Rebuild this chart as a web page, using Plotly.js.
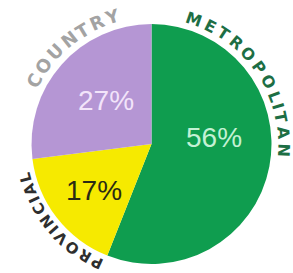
<!DOCTYPE html>
<html><head><meta charset="utf-8">
<script src="https://cdn.plot.ly/plotly-3.0.1.min.js"></script>
<style>html,body{margin:0;padding:0;background:#fff;}#chart{width:293px;height:273px;}</style>
</head><body><div id="chart"></div>
<script>
// ---- data ----
const categories = ['METROPOLITAN', 'PROVINCIAL', 'COUNTRY'];
const values = [56, 17, 27];

// ---- styles / layout config ----
const sliceColors = ['#0f9d4f', '#f6ea00', '#b596d4'];
const pctColors = ['#c3f1d4', '#2a2a14', '#f2e4fa'];
const labelColors = ['#1d6e44', '#2e2e2e', '#a3a3a3'];
const pctShiftDeg = [-17, -1, 2];
const pctRadius = [63, 74, 63];
const labelArcs = [[19, 92.5], [204.6, 255.2], [298.4, 343]];
const labelRadius = [132, 130, 133];
const labelSizes = [16, 15, 18];
const pctSize = 28;
const FONT = '"Liberation Sans", Arial, sans-serif';
const LFONT = '"DejaVu Sans", sans-serif';

const W = 293, H = 273;
const cx = 151.5, cy = 144, R = 120;

const total = values.reduce((a, b) => a + b, 0);
let acc = 0;
const starts = [], ends = [];
values.forEach(v => { starts.push(acc / total * 360); acc += v; ends.push(acc / total * 360); });

const ctx = document.createElement('canvas').getContext('2d');

function pt(angDeg, r) {
  const a = angDeg * Math.PI / 180;
  return [cx + r * Math.sin(a), cy - r * Math.cos(a)];
}
function normAng(a) { a = ((a % 360) + 360) % 360; return a > 180 ? a - 360 : a; }

const annotations = [];
categories.forEach((cat, i) => {
  const mid = (starts[i] + ends[i]) / 2 + pctShiftDeg[i];
  const [px, py] = pt(mid, pctRadius[i]);
  annotations.push({
    xref: 'paper', yref: 'paper', x: px / W, y: 1 - py / H,
    text: Math.round(values[i] / total * 100) + '%', showarrow: false,
    xanchor: 'center', yanchor: 'middle',
    font: { family: FONT, size: pctSize, color: pctColors[i] }
  });
  ctx.font = 'bold ' + labelSizes[i] + 'px "DejaVu Sans"';
  const chars = cat.split('');
  const widths = chars.map(c => ctx.measureText(c).width);
  const centers = [];
  let s = 0;
  widths.forEach(w => { centers.push(s + w / 2); s += w; });
  const c0 = centers[0], c1 = centers[centers.length - 1];
  const [a0, a1] = labelArcs[i];
  chars.forEach((ch, k) => {
    const ang = a0 + (centers[k] - c0) / (c1 - c0) * (a1 - a0);
    const [lx, ly] = pt(ang, labelRadius[i]);
    annotations.push({
      xref: 'paper', yref: 'paper', x: lx / W, y: 1 - ly / H,
      text: ch, showarrow: false, xanchor: 'center', yanchor: 'middle',
      textangle: normAng(ang),
      font: { family: LFONT, size: labelSizes[i], color: labelColors[i], weight: 'bold' }
    });
  });
});

const trace = {
  type: 'pie', labels: categories, values: values, sort: false,
  direction: 'clockwise', rotation: 0, textinfo: 'none', hoverinfo: 'skip',
  marker: { colors: sliceColors, line: { width: 0 } },
  domain: { x: [(cx - R) / W, (cx + R) / W], y: [(H - cy - R) / H, (H - cy + R) / H] },
  showlegend: false
};

Plotly.newPlot('chart', [trace], {
  width: W, height: H, margin: { l: 0, r: 0, t: 0, b: 0, pad: 0 },
  paper_bgcolor: '#ffffff', plot_bgcolor: '#ffffff', showlegend: false,
  annotations: annotations
}, { staticPlot: true, displayModeBar: false });
</script>
</body></html>
